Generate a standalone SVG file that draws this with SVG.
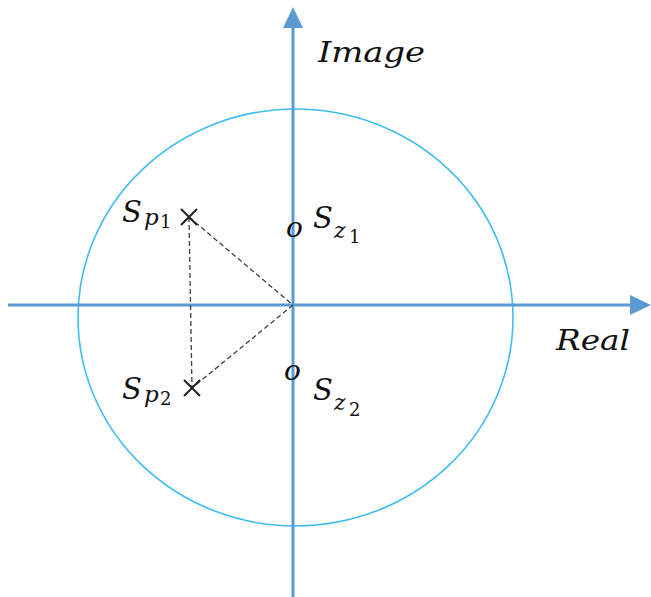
<svg xmlns="http://www.w3.org/2000/svg" width="651" height="597" viewBox="0 0 651 597">
<style>
.axis{stroke:#5b9bd5;stroke-width:3;fill:none}
.dash{stroke:#404040;stroke-width:1.3;stroke-dasharray:5,3;fill:none}
.cross{stroke:#222;stroke-width:2;fill:none}
.t{font-family:"DejaVu Serif","Liberation Serif",serif;font-style:italic;fill:#111}
.n{font-family:"DejaVu Serif","Liberation Serif",serif;font-style:normal;fill:#111;font-size:18px}
</style>
<rect width="651" height="597" fill="#fff"/>
<g id="circle"><ellipse cx="295.5" cy="317.5" rx="217.5" ry="208.5" fill="none" stroke="#3dbdf0" stroke-width="1.6"/></g>
<g id="axes">
<line class="axis" x1="8" y1="305" x2="632" y2="305"/>
<polygon points="651,305 630,295 630,315" fill="#5b9bd5"/>
<line class="axis" x1="293" y1="597" x2="293" y2="26"/>
<polygon points="293,7 283,28 303,28" fill="#5b9bd5"/>
</g>
<g id="connectors">
<line class="dash" x1="189" y1="217" x2="293" y2="305"/>
<line class="dash" x1="293" y1="305" x2="192" y2="388"/>
<line class="dash" x1="189" y1="217" x2="192" y2="388"/>
</g>
<g id="sp1">
<path class="cross" d="M181,209 L197,225 M197,209 L181,225"/>
<text class="t" x="122" y="222" font-size="29">S</text>
<text class="t" x="144" y="225" font-size="23">p</text>
<text class="n" x="160" y="228">1</text>
</g>
<g id="sp2">
<path class="cross" d="M184,380 L200,396 M200,380 L184,396"/>
<text class="t" x="122" y="399" font-size="29">S</text>
<text class="t" x="144" y="402" font-size="23">p</text>
<text class="n" x="160" y="405">2</text>
</g>
<g id="sz1">
<text class="t" x="286" y="237" font-size="28">o</text>
<text class="t" x="313" y="228" font-size="29">S</text>
<text class="t" x="334" y="238" font-size="22">z</text>
<text class="n" x="349" y="243">1</text>
</g>
<g id="sz2">
<text class="t" x="284" y="380" font-size="28">o</text>
<text class="t" x="313" y="400" font-size="29">S</text>
<text class="t" x="334" y="410" font-size="22">z</text>
<text class="n" x="349" y="416">2</text>
</g>
<g id="labels">
<text class="t" x="318" y="62" font-size="28" textLength="107" lengthAdjust="spacingAndGlyphs">Image</text>
<text class="t" x="556" y="350" font-size="28" textLength="74" lengthAdjust="spacingAndGlyphs">Real</text>
</g>
</svg>
